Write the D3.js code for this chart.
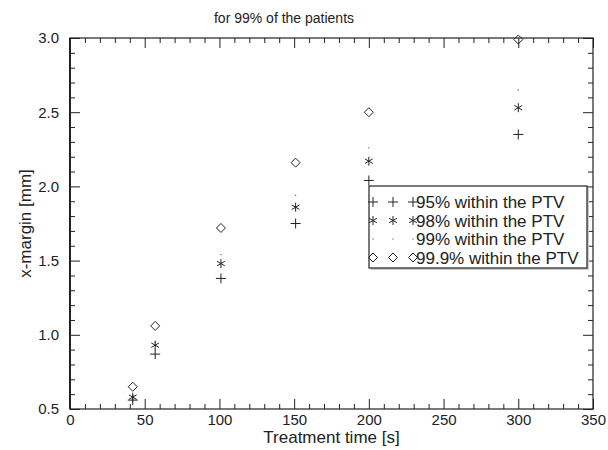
<!DOCTYPE html>
<html>
<head>
<meta charset="utf-8">
<script src="https://cdn.jsdelivr.net/npm/d3@7"></script>
<style>
  body { margin: 0; background: #fff; }
  svg { display: block; }
</style>
</head>
<body>
<div id="chart"></div>
<script>
// treatment times [s] and margins [mm]
const times = [42, 57, 101, 151, 200, 300];
const p95 = [0.56, 0.87, 1.38, 1.75, 2.04, 2.35];
const p98 = [0.58, 0.93, 1.48, 1.86, 2.17, 2.53];
const p99 = [0.59, 0.95, 1.54, 1.94, 2.26, 2.65];
const p999 = [0.65, 1.06, 1.72, 2.16, 2.50, 2.99];
const seriesNames = ['95% within the PTV', '98% within the PTV', '99% within the PTV', '99.9% within the PTV'];
const xTicks = [0, 50, 100, 150, 200, 250, 300, 350];
const yTicks = [0.5, 1.0, 1.5, 2.0, 2.5, 3.0];

const width = 608, height = 450;
const margin = { left: 70, right: 15, top: 38, bottom: 41 };
const ink = '#222';
const font = 'Liberation Sans, Arial, Helvetica, sans-serif';

const svg = d3.select('#chart').append('svg')
    .attr('width', width)
    .attr('height', height)
    .attr('font-family', font);

const x = d3.scaleLinear().domain([0, 350]).range([margin.left, width - margin.right]);
const y = d3.scaleLinear().domain([0.5, 3.0]).range([height - margin.bottom, margin.top]);

// symbol paths, IDL style
function plusPath(s) {
    return `M${-s},0H${s}M0,${-s}V${s}`;
}
function starPath(s) {
    const c = Math.cos(Math.PI / 6) * s, h = Math.sin(Math.PI / 6) * s;
    return `M0,${-s}V${s}M${-c},${-h}L${c},${h}M${-c},${h}L${c},${-h}`;
}
function dotPath() {
    return 'M-0.5,0H0.5';
}
function diamondPath(s) {
    return `M0,${-s}L${s},0L0,${s}L${-s},0Z`;
}
const symbols = [
    () => plusPath(5),
    () => starPath(4.5),
    () => dotPath(),
    () => diamondPath(4.5)
];
const seriesData = [p95, p98, p99, p999];

// axes: major and minor ticks, all pointing inward
const xMinor = d3.range(0, 351, 10).filter(v => v % 50 !== 0);
const yMinor = d3.range(0.5, 3.001, 0.1).map(v => +v.toFixed(1)).filter(v => Math.round(v * 10) % 5 !== 0);

function styleAxis(g) {
    g.select('.domain').remove();
    g.selectAll('line').attr('stroke', ink);
    g.selectAll('text').attr('fill', ink).attr('font-size', 15).attr('font-family', font);
}

svg.append('g')
    .attr('transform', `translate(0,${y(0.5)})`)
    .call(d3.axisBottom(x).tickValues(xTicks).tickSize(-10).tickPadding(5).tickFormat(d3.format('d')))
    .call(styleAxis);
svg.append('g')
    .attr('transform', `translate(0,${y(0.5)})`)
    .call(d3.axisBottom(x).tickValues(xMinor).tickSize(-5).tickFormat(''))
    .call(styleAxis);
svg.append('g')
    .attr('transform', `translate(0,${y(3.0)})`)
    .call(d3.axisTop(x).tickValues(xTicks).tickSize(-10).tickFormat(''))
    .call(styleAxis);
svg.append('g')
    .attr('transform', `translate(0,${y(3.0)})`)
    .call(d3.axisTop(x).tickValues(xMinor).tickSize(-5).tickFormat(''))
    .call(styleAxis);

svg.append('g')
    .attr('transform', `translate(${x(0)},0)`)
    .call(d3.axisLeft(y).tickValues(yTicks).tickSize(-10).tickPadding(11).tickFormat(d3.format('.1f')))
    .call(styleAxis);
svg.append('g')
    .attr('transform', `translate(${x(0)},0)`)
    .call(d3.axisLeft(y).tickValues(yMinor).tickSize(-5).tickFormat(''))
    .call(styleAxis);
svg.append('g')
    .attr('transform', `translate(${x(350)},0)`)
    .call(d3.axisRight(y).tickValues(yTicks).tickSize(-10).tickFormat(''))
    .call(styleAxis);
svg.append('g')
    .attr('transform', `translate(${x(350)},0)`)
    .call(d3.axisRight(y).tickValues(yMinor).tickSize(-5).tickFormat(''))
    .call(styleAxis);

// frame
svg.append('rect')
    .attr('x', x(0))
    .attr('y', y(3.0))
    .attr('width', x(350) - x(0))
    .attr('height', y(0.5) - y(3.0))
    .attr('fill', 'none')
    .attr('stroke', ink)
    .attr('stroke-width', 1.2);
svg.append('line')
    .attr('x1', x(0)).attr('x2', x(0))
    .attr('y1', y(3.0)).attr('y2', y(0.5))
    .attr('stroke', ink)
    .attr('stroke-width', 2);

// data points
seriesData.forEach((vals, i) => {
    svg.append('g').selectAll('path')
        .data(vals.map((v, j) => ({ t: times[j], v: v })))
        .join('path')
        .attr('transform', d => `translate(${x(d.t)},${y(d.v)})`)
        .attr('d', symbols[i])
        .attr('fill', 'none')
        .attr('stroke', ink)
        .attr('stroke-width', 1);
});

// titles
svg.append('text')
    .attr('x', 284)
    .attr('y', 23)
    .attr('text-anchor', 'middle')
    .attr('font-size', 14)
    .attr('fill', ink)
    .text('for 99% of the patients');
svg.append('text')
    .attr('x', (x(0) + x(350)) / 2)
    .attr('y', 443)
    .attr('text-anchor', 'middle')
    .attr('font-size', 17)
    .attr('fill', ink)
    .text('Treatment time [s]');
svg.append('text')
    .attr('transform', `translate(31,${(y(0.5) + y(3.0)) / 2}) rotate(-90)`)
    .attr('text-anchor', 'middle')
    .attr('font-size', 17)
    .attr('fill', ink)
    .text('x-margin [mm]');

// legend
const legend = svg.append('g').attr('transform', 'translate(369,186)');
legend.append('rect')
    .attr('x', 2).attr('y', 2)
    .attr('width', 218).attr('height', 82)
    .attr('fill', '#ccc');
legend.append('rect')
    .attr('width', 218).attr('height', 82)
    .attr('fill', '#fff')
    .attr('stroke', ink)
    .attr('stroke-width', 1.2);
seriesNames.forEach((name, i) => {
    const row = legend.append('g').attr('transform', `translate(0,${16 + i * 18.5})`);
    [4, 24, 44].forEach(sx => {
        row.append('path')
            .attr('transform', `translate(${sx},0)`)
            .attr('d', symbols[i])
            .attr('fill', 'none')
            .attr('stroke', ink);
    });
    row.append('text')
        .attr('x', 47)
        .attr('y', 6)
        .attr('font-size', 17)
        .attr('fill', ink)
        .text(name);
});
</script>
</body>
</html>
